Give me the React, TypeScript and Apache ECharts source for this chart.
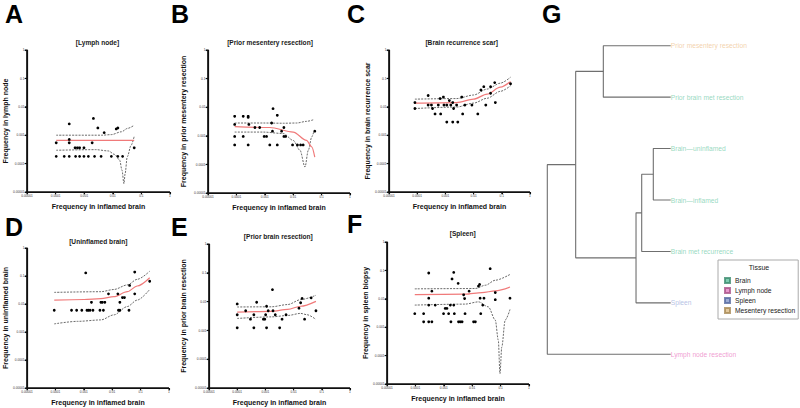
import React, { useEffect, useRef } from "react";
import * as echarts from "echarts";

const FONT = "Liberation Sans";
const TICK_LABELS = ["0.00001", "0.0001", "0.001", "0.01", "0.1", "1"];
const X_TITLE = "Frequency in inflamed brain";
const PANEL_LETTERS = ["A", "B", "C", "D", "E", "F", "G"];
const PANEL_TITLES = ["[Lymph node]", "[Prior mesentery resection]", "[Brain recurrence scar]", "[Uninflamed brain]", "[Prior brain resection]", "[Spleen]"];
const Y_TITLES = ["Frequency in lymph node", "Frequency in prior mesentery resection", "Frequency in brain recurrence scar", "Frequency in uninflamed brain", "Frequency in prior brain resection", "Frequency in spleen biopsy"];

// A: lymph node
const lymphX = [1.05e-4, 1.05e-4, 2.0e-4, 3.0e-4, 3.0e-4, 3.0e-4, 3.0e-4, 4.8e-4, 5.8e-4, 6.9e-4, 5.0e-4, 6.9e-4, 9.8e-4, 1.4e-3, 9.8e-4, 1.9e-3, 2.1e-3, 2.3e-3, 3.0e-3, 3.9e-3, 5.0e-3, 8.9e-3, 1.32e-2, 1.5e-2, 1.5e-2, 2.2e-2, 5.6e-2];
const lymphY = [5.4e-4, 1.8e-4, 1.8e-4, 2.5e-3, 7.1e-4, 5.4e-4, 1.8e-4, 3.6e-4, 3.6e-4, 3.6e-4, 1.8e-4, 1.8e-4, 1.8e-4, 1.8e-4, 3.6e-4, 5.4e-4, 3.9e-3, 1.8e-4, 1.8e-3, 1.8e-4, 1.23e-3, 1.8e-4, 1.66e-3, 1.8e-3, 1.8e-4, 1.8e-4, 3.6e-4];
const lymphFitX = [1.05e-4, 5.6e-2];
const lymphFitY = [6.6e-4, 6.6e-4];
const lymphUpperX = [1.05e-4, 4.1e-3, 8.9e-3, 2.0e-2, 3.3e-2, 5.6e-2];
const lymphUpperY = [1.0e-3, 1.0e-3, 1.05e-3, 1.32e-3, 1.74e-3, 2.24e-3];
const lymphLowerX = [1.05e-4, 2.5e-3, 6.9e-3, 1.17e-2, 1.74e-2, 2.1e-2, 2.45e-2, 2.7e-2, 3.2e-2, 4.4e-2, 5.6e-2];
const lymphLowerY = [2.95e-4, 3.1e-4, 2.8e-4, 2.1e-4, 1.32e-4, 5.8e-5, 1.95e-5, 4.5e-5, 1.74e-4, 4.5e-4, 9.1e-4];

// B: prior mesentery resection
const mesX = [8.7e-5, 8.7e-5, 8.7e-5, 8.7e-5, 1.74e-4, 1.74e-4, 2.6e-4, 2.6e-4, 2.75e-4, 2.6e-4, 4.5e-4, 6.6e-4, 9.5e-4, 1.15e-3, 1.5e-3, 1.74e-3, 1.95e-3, 1.86e-3, 2.75e-3, 2.75e-3, 3.9e-3, 4.7e-3, 4.7e-3, 5.4e-3, 9.5e-3, 1.41e-2, 1.82e-2, 2.24e-2, 5.75e-2];
const mesY = [4.8e-3, 2.5e-3, 9.5e-4, 4.8e-4, 4.8e-3, 9.5e-4, 4.8e-3, 4.4e-3, 2.5e-3, 4.8e-4, 1.95e-3, 1.95e-3, 9.5e-4, 9.5e-4, 4.8e-4, 2.8e-3, 8.9e-3, 1.45e-3, 5.2e-3, 4.8e-4, 1.45e-3, 1.95e-3, 9.5e-4, 9.5e-4, 4.8e-4, 4.8e-4, 4.8e-4, 4.8e-4, 1.45e-3];
const mesFitX = [8.7e-5, 1.5e-3, 1.0e-2, 2.95e-2, 4.5e-2, 5.75e-2];
const mesFitY = [2.1e-3, 1.95e-3, 1.35e-3, 6.9e-4, 4.1e-4, 1.8e-4];
const mesUpperX = [8.7e-5, 8.7e-4, 4.5e-3, 1.32e-2, 2.95e-2, 5.4e-2];
const mesUpperY = [2.8e-3, 2.8e-3, 2.75e-3, 2.8e-3, 3.2e-3, 3.7e-3];
const mesLowerX = [8.7e-5, 8.7e-4, 4.5e-3, 1.0e-2, 1.74e-2, 2.6e-2, 3.4e-2, 4.5e-2, 5.4e-2];
const mesLowerY = [1.35e-3, 1.35e-3, 1.2e-3, 6.9e-4, 3.1e-4, 8.1e-5, 3.1e-4, 9.1e-4, 1.48e-3];

// C: brain recurrence scar
const scarX = [8.3e-5, 8.3e-5, 2.45e-4, 2.45e-4, 3.2e-4, 3.5e-4, 4.3e-4, 5.6e-4, 6.5e-4, 6.8e-4, 8.5e-4, 8.9e-4, 1.12e-3, 1.12e-3, 1.38e-3, 1.55e-3, 1.82e-3, 1.95e-3, 1.82e-3, 2.5e-3, 2.75e-3, 3.8e-3, 4.1e-3, 4.9e-3, 8.7e-3, 1.41e-2, 1.82e-2, 2.3e-2, 2.7e-2, 4.0e-2, 4.0e-2, 5.6e-2, 5.9e-2, 0.204];
const scarY = [1.41e-2, 8.7e-3, 2.5e-2, 1.15e-2, 1.15e-2, 8.7e-3, 5.6e-3, 1.15e-2, 1.95e-2, 5.6e-3, 2.2e-2, 1.15e-2, 1.15e-2, 2.9e-3, 1.66e-2, 1.15e-2, 1.41e-2, 8.7e-3, 2.9e-3, 1.15e-2, 2.9e-3, 2.2e-2, 5.6e-3, 1.15e-2, 1.15e-2, 5.6e-3, 3.9e-2, 5.1e-2, 1.15e-2, 5.1e-2, 3.0e-2, 7.1e-2, 1.41e-2, 6.5e-2];
const scarFitX = [8.3e-5, 2.5e-3, 1.0e-2, 3.0e-2, 8.9e-2, 0.204];
const scarFitY = [1.35e-2, 1.41e-2, 1.86e-2, 2.8e-2, 4.9e-2, 7.8e-2];
const scarUpperY = [1.86e-2, 1.95e-2, 2.6e-2, 4.2e-2, 6.8e-2, 0.11];
const scarLowerY = [8.7e-3, 9.8e-3, 1.35e-2, 2.0e-2, 3.5e-2, 5.5e-2];

// D: uninflamed brain
const unX = [9.1e-5, 3.7e-4, 5.6e-4, 8.5e-4, 1.17e-3, 1.29e-3, 1.45e-3, 1.66e-3, 2.1e-3, 1.86e-3, 3.7e-3, 4.0e-3, 4.5e-3, 5.5e-3, 4.9e-3, 7.4e-3, 1.58e-2, 1.66e-2, 1.86e-2, 1.86e-2, 2.3e-2, 2.7e-2, 3.9e-2, 4.1e-2, 6.2e-2, 6.2e-2, 0.209];
const unY = [6.0e-3, 6.0e-3, 6.0e-3, 6.0e-3, 0.129, 6.0e-3, 6.0e-3, 6.0e-3, 6.0e-3, 1.15e-2, 6.0e-3, 1.15e-2, 1.15e-2, 1.15e-2, 6.0e-3, 2.3e-2, 2.3e-2, 6.0e-3, 6.0e-3, 1.15e-2, 1.7e-2, 1.7e-2, 6.0e-3, 4.6e-2, 0.138, 2.3e-2, 6.5e-2];
const unFitX = [9.1e-5, 1.02e-3, 4.0e-3, 1.15e-2, 3.4e-2, 7.6e-2, 0.209];
const unFitY = [1.38e-2, 1.45e-2, 1.55e-2, 1.82e-2, 2.75e-2, 4.4e-2, 8.7e-2];
const unUpperX = [9.1e-5, 4.0e-3, 1.15e-2, 3.4e-2, 7.6e-2, 0.209];
const unUpperY = [2.6e-2, 2.75e-2, 3.3e-2, 4.8e-2, 7.6e-2, 0.148];
const unLowerX = [9.1e-5, 6.0e-4, 4.0e-3, 1.15e-2, 3.4e-2, 7.6e-2, 0.209];
const unLowerY = [1.95e-3, 2.4e-3, 2.7e-3, 4.1e-3, 8.1e-3, 1.38e-2, 3.3e-2];

// E: prior brain resection
const resX = [1.0e-4, 1.0e-4, 1.0e-4, 2.0e-4, 2.95e-4, 3.9e-4, 3.9e-4, 4.9e-4, 8.5e-4, 9.5e-4, 1.02e-3, 1.1e-3, 1.1e-3, 1.26e-3, 1.78e-3, 1.86e-3, 2.24e-3, 3.2e-3, 3.9e-3, 5.4e-3, 1.55e-2, 1.78e-2, 2.0e-2, 2.45e-2, 4.2e-2, 6.2e-2];
const resY = [8.3e-3, 3.5e-3, 1.23e-3, 4.8e-3, 2.45e-3, 3.5e-3, 1.23e-3, 9.5e-3, 2.45e-3, 2.45e-3, 3.5e-3, 6.9e-3, 1.23e-3, 4.8e-3, 2.6e-2, 4.8e-3, 3.5e-3, 1.23e-3, 2.45e-3, 3.5e-3, 5.9e-3, 9.1e-3, 1.29e-2, 2.45e-3, 1.35e-2, 4.8e-3];
const resFitX = [1.0e-4, 1.62e-3, 6.2e-3, 1.78e-2, 6.2e-2];
const resFitY = [4.3e-3, 4.6e-3, 5.4e-3, 6.9e-3, 1.02e-2];
const resUpperY = [6.5e-3, 6.6e-3, 7.9e-3, 1.17e-2, 1.66e-2];
const resLowerX = [1.0e-4, 1.62e-3, 6.2e-3, 1.78e-2, 3.0e-2, 6.2e-2];
const resLowerY = [2.6e-3, 2.95e-3, 3.3e-3, 3.9e-3, 3.5e-3, 2.4e-3];

// F: spleen
const splX = [9.5e-5, 1.95e-4, 1.95e-4, 2.95e-4, 2.95e-4, 2.95e-4, 2.95e-4, 3.8e-4, 3.8e-4, 5.0e-4, 9.8e-4, 1.12e-3, 1.29e-3, 1.48e-3, 1.7e-3, 1.78e-3, 1.95e-3, 2.24e-3, 2.24e-3, 2.35e-3, 3.2e-3, 3.3e-3, 3.8e-3, 4.4e-3, 5.0e-3, 5.4e-3, 5.6e-3, 7.8e-3, 1.12e-2, 1.29e-2, 1.66e-2, 1.82e-2, 1.9e-2, 2.0e-2, 2.35e-2, 2.6e-2, 4.3e-2, 6.5e-2, 6.5e-2, 0.214];
const splY = [3.0e-3, 3.0e-3, 1.55e-3, 8.1e-2, 1.05e-2, 6.0e-3, 1.55e-3, 1.55e-3, 1.86e-2, 6.0e-3, 3.0e-3, 4.6e-3, 4.6e-3, 3.0e-3, 6.0e-3, 1.55e-3, 5.0e-2, 8.5e-2, 6.0e-3, 3.0e-3, 3.5e-2, 1.55e-3, 1.55e-3, 1.55e-3, 1.38e-2, 1.02e-2, 3.0e-3, 1.86e-2, 1.55e-3, 1.55e-3, 2.8e-2, 3.2e-2, 1.05e-2, 3.0e-3, 6.0e-3, 1.05e-2, 0.115, 1.66e-2, 9.3e-3, 1.05e-2];
const splFitX = [9.5e-5, 5.6e-3, 2.2e-2, 6.5e-2, 0.214];
const splFitY = [1.41e-2, 1.45e-2, 1.66e-2, 1.9e-2, 2.6e-2];
const splUpperX = [9.5e-5, 1.29e-2, 2.9e-2, 6.5e-2, 0.214];
const splUpperY = [2.24e-2, 2.3e-2, 3.0e-2, 4.5e-2, 7.2e-2];
const splLowerX = [9.5e-5, 5.6e-3, 1.66e-2, 3.7e-2, 6.5e-2, 8.3e-2, 9.5e-2, 0.11, 0.145, 0.214];
const splLowerY = [6.0e-3, 6.5e-3, 7.8e-3, 5.2e-3, 1.78e-3, 3.5e-4, 2.3e-5, 2.0e-4, 1.78e-3, 4.2e-3];

// G: dendrogram
const TISSUE_NAMES = ["Brain", "Lymph node", "Spleen", "Mesentery resection"];
const TISSUE_COLORS = ["#5fbf9c", "#e27fbf", "#8397c9", "#dcbb85"];
const TISSUE_BORDERS = ["#3d8c6f", "#a95388", "#566aa0", "#a88a55"];
const TISSUE_LABEL_COLORS = ["#7dcfb0", "#ec84c6", "#a3b2dd", "#efc797"];
const LEAF_NAMES = ["Prior mesentery resection", "Prior brain met resection", "Brain\u2014uninflamed", "Brain\u2014inflamed", "Brain met recurrence", "Spleen", "Lymph node resection"];
const LEAF_TISSUE = [3, 0, 0, 0, 0, 2, 1];
const MERGE_A = [0, 2, 8, 9, 7, 11];
const MERGE_B = [1, 3, 4, 5, 10, 6];
const MERGE_HEIGHT = [0.546, 0.141, 0.235, 0.281, 0.77, 1.0];

// both axes are decade (log10) scales from 1e-5 to 1
const DECADE_MIN = -5;
const DECADE_MAX = 0;
const DECADES = TICK_LABELS.map((_, k) => DECADE_MIN + k);
const lg = (v: number) => Math.log10(v);
const zipLog = (xs: number[], ys: number[]) => xs.map((x, i) => [lg(x), lg(ys[i])]);

const PANELS = [
  { pts: zipLog(lymphX, lymphY), fit: zipLog(lymphFitX, lymphFitY), up: zipLog(lymphUpperX, lymphUpperY), lo: zipLog(lymphLowerX, lymphLowerY) },
  { pts: zipLog(mesX, mesY), fit: zipLog(mesFitX, mesFitY), up: zipLog(mesUpperX, mesUpperY), lo: zipLog(mesLowerX, mesLowerY) },
  { pts: zipLog(scarX, scarY), fit: zipLog(scarFitX, scarFitY), up: zipLog(scarFitX, scarUpperY), lo: zipLog(scarFitX, scarLowerY) },
  { pts: zipLog(unX, unY), fit: zipLog(unFitX, unFitY), up: zipLog(unUpperX, unUpperY), lo: zipLog(unLowerX, unLowerY) },
  { pts: zipLog(resX, resY), fit: zipLog(resFitX, resFitY), up: zipLog(resFitX, resUpperY), lo: zipLog(resLowerX, resLowerY) },
  { pts: zipLog(splX, splY), fit: zipLog(splFitX, splFitY), up: zipLog(splUpperX, splUpperY), lo: zipLog(splLowerX, splLowerY) },
];

const LAYOUT = [
  { left: 27, top: 50, width: 143, height: 142, yGap: 12, tx: 97.5, ty: 43 },
  { left: 208, top: 50, width: 142, height: 143, yGap: 21, tx: 270, ty: 42.7 },
  { left: 389, top: 50, width: 141, height: 142, yGap: 17.5, tx: 461.7, ty: 42.7 },
  { left: 27, top: 248, width: 142, height: 140, yGap: 18.5, tx: 98.3, ty: 241.7 },
  { left: 209, top: 244, width: 141, height: 144, yGap: 22.5, tx: 278.3, ty: 236.7 },
  { left: 387, top: 242, width: 142, height: 142, yGap: 16.5, tx: 462.7, ty: 234.3 },
];
const LETTER_POS = [[5, 14], [171, 14], [347, 14], [5, 226.5], [171, 226.5], [347, 224], [542, 14]];
const DENDRO = { left: 547.3, top: 45.7, width: 123.4, height: 308.6 };
const TICK_LEN = 2.2;
const AXIS_W = 1.2;

function tickFmt(v: number) {
  return TICK_LABELS[Math.round(v) - DECADE_MIN] ?? "";
}

function makeAxis(gridIndex: number, name: string, nameGap: number) {
  return {
    type: "value",
    gridIndex,
    min: DECADE_MIN,
    max: DECADE_MAX,
    interval: 1,
    name,
    nameGap,
    nameLocation: "middle",
    nameTextStyle: { fontSize: 7, fontWeight: "bold", fontFamily: FONT, color: "#111" },
    axisLine: { show: true, onZero: false, lineStyle: { color: "#111", width: AXIS_W } },
    axisTick: { show: true, length: TICK_LEN, lineStyle: { color: "#111", width: 1.1 } },
    axisLabel: { show: true, fontSize: 3.2, margin: 2.5, color: "#333", fontFamily: FONT, formatter: tickFmt },
    splitLine: { show: false },
  };
}

function baseGraphics(): any[] {
  const g: any[] = PANEL_LETTERS.map((l, i) => ({
    type: "text",
    id: "letter" + i,
    x: LETTER_POS[i][0],
    y: LETTER_POS[i][1],
    style: { text: l, fontSize: 25, fontWeight: "bold", fontFamily: FONT, fill: "#000", verticalAlign: "middle", align: "left" },
  }));
  g.push({
    type: "text",
    id: "tissueTitle",
    x: 759,
    y: 267.5,
    style: { text: "Tissue", fontSize: 7, fontFamily: FONT, fill: "#222", align: "center", verticalAlign: "middle" },
  });
  return g;
}

const mainSeriesIndex: number[] = [];

function buildOption() {
  const grids: any[] = [];
  const xAxes: any[] = [];
  const yAxes: any[] = [];
  const series: any[] = [];
  const titles: any[] = [];
  mainSeriesIndex.length = 0;
  PANELS.forEach((p, i) => {
    const L = LAYOUT[i];
    grids.push({ left: L.left, top: L.top, width: L.width, height: L.height });
    xAxes.push(makeAxis(i, X_TITLE, 10.5));
    yAxes.push(makeAxis(i, Y_TITLES[i], L.yGap));
    titles.push({
      text: PANEL_TITLES[i],
      left: L.tx,
      top: L.ty - 4,
      textAlign: "center",
      padding: 0,
      textStyle: { fontSize: 6.6, fontWeight: "bold", fontFamily: FONT, color: "#1a1a1a" },
    });
    // axis frame (L shape along the axes' extents)
    series.push({
      type: "line",
      xAxisIndex: i,
      yAxisIndex: i,
      data: [[DECADE_MAX, DECADE_MIN], [DECADE_MIN, DECADE_MIN], [DECADE_MIN, DECADE_MAX]],
      showSymbol: false,
      clip: false,
      lineStyle: { color: "#111", width: AXIS_W },
      z: 7,
    });
    mainSeriesIndex.push(series.length);
    series.push({
      type: "scatter",
      xAxisIndex: i,
      yAxisIndex: i,
      data: p.pts,
      symbol: "circle",
      symbolSize: 2.8,
      itemStyle: { color: "#000", opacity: 1 },
      z: 5,
    });
    series.push({
      type: "line",
      xAxisIndex: i,
      yAxisIndex: i,
      data: p.fit,
      showSymbol: false,
      smooth: 0.3,
      smoothMonotone: "x",
      lineStyle: { color: "#f07a7a", width: 1.2 },
      z: 4,
    });
    [p.up, p.lo].forEach((band) => {
      series.push({
        type: "line",
        xAxisIndex: i,
        yAxisIndex: i,
        data: band,
        showSymbol: false,
        smooth: 0.3,
        smoothMonotone: "x",
        lineStyle: { color: "#444", width: 0.8, type: [2, 1.2] },
        z: 3,
      });
    });
  });

  // dendrogram grid
  const gi = PANELS.length;
  grids.push({ ...DENDRO });
  xAxes.push({ type: "value", gridIndex: gi, min: 0, max: 1, inverse: true, show: false });
  yAxes.push({ type: "value", gridIndex: gi, min: 0, max: LEAF_NAMES.length - 1, inverse: true, show: false });
  const nodeY: number[] = LEAF_NAMES.map((_, i) => i);
  const nodeH: number[] = LEAF_NAMES.map(() => 0);
  MERGE_A.forEach((a, k) => {
    const b = MERGE_B[k];
    const h = MERGE_HEIGHT[k];
    series.push({
      type: "line",
      xAxisIndex: gi,
      yAxisIndex: gi,
      data: [[nodeH[a], nodeY[a]], [h, nodeY[a]], [h, nodeY[b]], [nodeH[b], nodeY[b]]],
      showSymbol: false,
      clip: false,
      lineStyle: { color: "#6f6f6f", width: 1.1 },
      silent: true,
    });
    nodeY.push((nodeY[a] + nodeY[b]) / 2);
    nodeH.push(h);
  });
  TISSUE_NAMES.forEach((name, t) => {
    series.push({
      type: "scatter",
      name,
      xAxisIndex: gi,
      yAxisIndex: gi,
      symbol: "rect",
      symbolSize: 0,
      clip: false,
      itemStyle: { color: TISSUE_COLORS[t], borderColor: TISSUE_BORDERS[t], borderWidth: 0.6 },
      data: LEAF_NAMES.map((n, i) => ({ name: n, value: [0, i], t: LEAF_TISSUE[i] }))
        .filter((d) => d.t === t)
        .map((d) => ({ name: d.name, value: d.value })),
      label: {
        show: true,
        position: "right",
        distance: 0,
        formatter: "{b}",
        color: TISSUE_LABEL_COLORS[t],
        fontSize: 6.7,
        fontFamily: FONT,
      },
    });
  });

  return {
    animation: false,
    title: titles,
    grid: grids,
    xAxis: xAxes,
    yAxis: yAxes,
    series,
    graphic: baseGraphics(),
    legend: {
      data: TISSUE_NAMES,
      orient: "vertical",
      left: 718,
      top: 260,
      icon: "rect",
      itemWidth: 5,
      itemHeight: 5,
      itemGap: 3,
      padding: [17, 3, 5, 6],
      borderColor: "#aaa",
      borderWidth: 1,
      selectedMode: false,
      textStyle: { fontSize: 6.7, fontFamily: FONT, color: "#222" },
    },
  };
}

// axis frames and decade ticks as thin filled rects, positioned through each panel's own scales
function axisGraphics(chart: any): any[] {
  const out: any[] = [];
  PANELS.forEach((_, i) => {
    try {
      const px = (v: number[]) => chart.convertToPixel({ seriesIndex: mainSeriesIndex[i] }, v) as number[];
      const o = px([DECADE_MIN, DECADE_MIN]);
      const tr = px([DECADE_MAX, DECADE_MAX]);
      if (!o || !tr || !isFinite(o[0]) || !isFinite(tr[0])) return;
      const h = AXIS_W / 2;
      out.push({
        type: "rect",
        id: "fy" + i,
        z: 100,
        silent: true,
        shape: { x: o[0] - h, y: tr[1], width: AXIS_W, height: o[1] - tr[1] + h },
        style: { fill: "#111" },
      });
      out.push({
        type: "rect",
        id: "fx" + i,
        z: 100,
        silent: true,
        shape: { x: o[0] - h, y: o[1] - h, width: tr[0] - o[0] + h, height: AXIS_W },
        style: { fill: "#111" },
      });
      DECADES.forEach((d, k) => {
        const xp = px([d, DECADE_MIN]);
        const yp = px([DECADE_MIN, d]);
        out.push({
          type: "rect",
          id: `xt${i}_${k}`,
          z: 100,
          silent: true,
          shape: { x: xp[0] - 0.5, y: xp[1], width: 1, height: TICK_LEN },
          style: { fill: "#111" },
        });
        out.push({
          type: "rect",
          id: `yt${i}_${k}`,
          z: 100,
          silent: true,
          shape: { x: yp[0] - TICK_LEN, y: yp[1] - 0.5, width: TICK_LEN, height: 1 },
          style: { fill: "#111" },
        });
      });
    } catch (e) {
      // skip this panel's overlay if its scale cannot be read
    }
  });
  return out;
}

export default function App() {
  const ref = useRef<HTMLDivElement>(null);
  useEffect(() => {
    if (!ref.current) return;
    const chart = echarts.init(ref.current, undefined, { renderer: "svg" });
    chart.setOption(buildOption() as any);
    const overlay = axisGraphics(chart);
    if (overlay.length) {
      chart.setOption({ graphic: [...baseGraphics(), ...overlay] } as any);
    }
    return () => chart.dispose();
  }, []);
  return <div ref={ref} style={{ position: "fixed", left: 0, top: 0, width: 800, height: 408, background: "#fff" }} />;
}
